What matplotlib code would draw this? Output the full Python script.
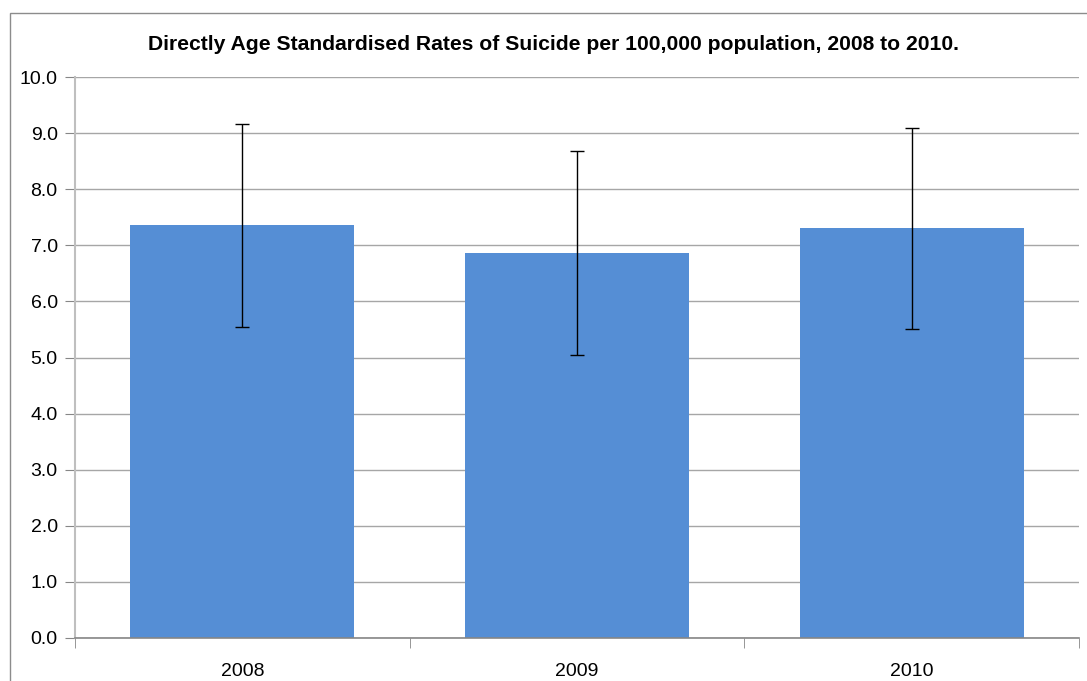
import matplotlib
matplotlib.use("Agg")
import matplotlib.pyplot as plt
from matplotlib.patches import Rectangle
import numpy as np

categories = ["2008", "2009", "2010"]
rates = [7.36, 6.86, 7.31]
ci_upper = [9.16, 8.69, 9.10]
ci_lower = [5.55, 5.05, 5.50]
yticks = [0.0, 1.0, 2.0, 3.0, 4.0, 5.0, 6.0, 7.0, 8.0, 9.0, 10.0]
title = "Directly Age Standardised Rates of Suicide per 100,000 population, 2008 to 2010."

W, H = 1087, 681
fig = plt.figure(figsize=(W / 100, H / 100), dpi=100)
plt.rcParams['font.family'] = ['Liberation Sans', 'DejaVu Sans']

# outer chart border
fig.patches.append(Rectangle((10 / W, -0.1), 1.2, 1 - 13 / H + 0.1, transform=fig.transFigure,
                             fill=False, edgecolor="#8c8c8c", linewidth=1.0))

ax = fig.add_axes([75 / W, 43.3 / H, 1004 / W, 560.4 / H])
x = np.arange(len(categories))
rates_a = np.array(rates)
yerr = np.array([rates_a - np.array(ci_lower), np.array(ci_upper) - rates_a])
ax.bar(x, rates, width=0.67, color="#558ED5", zorder=2)
ax.errorbar(x, rates, yerr=yerr, fmt="none", ecolor="black", elinewidth=1.0,
            capsize=5, capthick=1.0, zorder=3)

ax.set_xlim(-0.5, len(categories) - 0.5)
ax.set_ylim(0, 10)
ax.set_yticks(yticks)
ax.set_yticklabels([f"{v:.1f}" for v in yticks], fontsize=14)
ax.set_xticks(x)
ax.set_xticklabels(categories, fontsize=14)
ax.tick_params(axis="x", length=0, pad=18)
ax.tick_params(axis="y", length=7, color="#868686", pad=5.5)
# category boundary ticks
ax.set_xticks(np.arange(-0.5, len(categories)), minor=True)
ax.tick_params(axis="x", which="minor", length=7, color="#868686")

ax.yaxis.grid(True, color="#A6A6A6", linewidth=1.0, zorder=0)
ax.set_axisbelow(True)
for s in ["top", "right"]:
    ax.spines[s].set_visible(False)
ax.spines["left"].set_color("#BFBFBF")
ax.spines["left"].set_linewidth(1.5)
ax.spines["bottom"].set_color("#868686")
ax.spines["bottom"].set_linewidth(1.2)

fig.text(553 / W, 1 - 44 / H, title, ha="center", va="center", fontsize=15.2,
         fontweight="bold", family=["Liberation Sans Narrow", "Liberation Sans", "DejaVu Sans"])

fig.savefig("out.png", dpi=100)
